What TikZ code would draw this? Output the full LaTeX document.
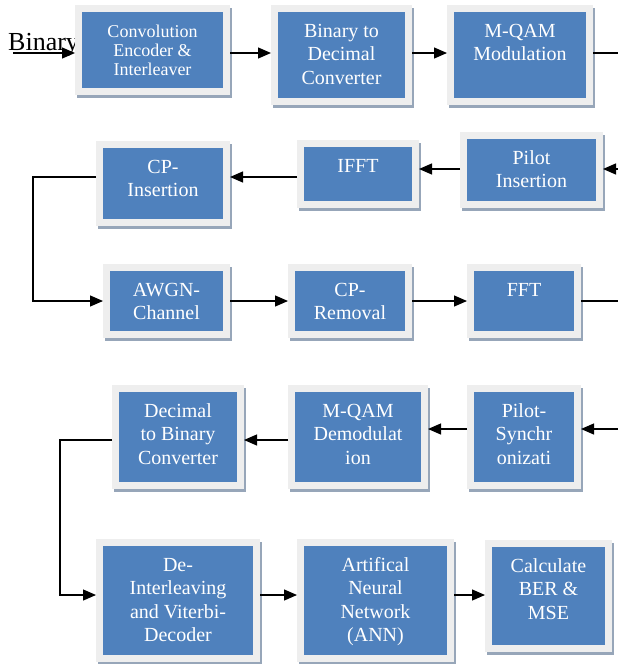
\documentclass[tikz,border=0pt]{standalone}
\usepackage{fontspec}
\setmainfont{Liberation Serif}
\usepackage{xcolor}
\usepackage{tikz}
\usetikzlibrary{arrows.meta}
\definecolor{BlockBlue}{HTML}{4F81BD}
\definecolor{BlockFrame}{HTML}{EEEEEE}
\definecolor{BlockShadow}{HTML}{97A6B9}
\newcommand{\FigureBlockText}[3]{%
  \parbox[c][#2pt][t]{#1pt}{\centering\rule{0pt}{25pt}#3}%
}

\begin{document}
\begin{tikzpicture}[
  x=1pt,y=-1pt,
  font=\fontsize{20}{23.5}\selectfont,
  block/.style={fill=BlockBlue,text=white,inner sep=0pt,outer sep=7pt,
    preaction={draw=BlockShadow,line width=14pt,transform canvas={shift={(2pt,-3pt)}}},
    preaction={draw=BlockFrame,line width=14pt}},
  flow/.style={draw=black,line width=1.2pt,-{Triangle[length=13pt,width=11pt]}},
  plain/.style={draw=black,line width=1.1pt},
]
  \useasboundingbox[fill=white] (0,0) rectangle (618,664);

  \node[anchor=base west,inner sep=0pt,font=\fontsize{26}{30}\selectfont] (binlbl) at (8,50) {Binary};

  % transmitter
  \node[block] (conv) at (152.5,50) {\FigureBlockText{141}{76}{\fontsize{18}{19}\selectfont Convolution\\Encoder \&\\Interleaver}};
  \node[block] (b2d) at (341.5,55) {\FigureBlockText{127}{86}{Binary to\\Decimal\\Converter}};
  \node[block] (mqam) at (520,55) {\FigureBlockText{132}{86}{M-QAM\\Modulation}};
  \node[block] (cpins) at (163,183.5) {\FigureBlockText{120}{71}{CP-\\Insertion}};
  \node[block] (ifft) at (358,174) {\FigureBlockText{108}{54}{IFFT}};
  \node[block] (pilotins) at (531.5,170) {\FigureBlockText{129}{62}{Pilot\\Insertion}};

  % channel and receiver
  \node[block] (awgn) at (166.5,301) {\FigureBlockText{113}{60}{AWGN-\\Channel}};
  \node[block] (cprem) at (350,301) {\FigureBlockText{110}{60}{CP-\\Removal}};
  \node[block] (fft) at (524,301) {\FigureBlockText{100}{60}{FFT}};
  \node[block] (dectobin) at (178,437) {\FigureBlockText{118}{90}{Decimal\\to Binary\\Converter}};
  \node[block] (demod) at (358,437) {\FigureBlockText{126}{90}{M-QAM\\Demodulat\\ion}};
  \node[block] (pilotsync) at (524,437) {\FigureBlockText{100}{90}{Pilot-\\Synchr\\onizati}};
  \node[block] (deint) at (178,600.5) {\FigureBlockText{150}{109}{De-\\Interleaving\\and Viterbi-\\Decoder}};
  \node[block] (ann) at (375.5,600.5) {\FigureBlockText{143}{109}{Artifical\\Neural\\Network\\(ANN)}};
  \node[block] (ber) at (548.5,596) {\FigureBlockText{113}{98}{Calculate\\BER \&\\MSE}};

  \coordinate (src) at (13,53);
  \coordinate (out1) at (618,53);
  \coordinate (in2) at (618,169);
  \coordinate (row2) at (0,177);
  \coordinate (out3) at (618,301);
  \coordinate (in4) at (618,429);
  \coordinate (row4) at (0,440);
  \coordinate (row5) at (0,595);

  \draw[flow] (src) -- (src -| conv.west);
  \draw[flow] (conv.east |- src) -- (src -| b2d.west);
  \draw[flow] (b2d.east |- src) -- (src -| mqam.west);
  \draw[plain] (mqam.east |- src) -- (out1);

  \draw[flow] (in2) -- (in2 -| pilotins.east);
  \draw[flow] (pilotins.west |- in2) -- (in2 -| ifft.east);
  \draw[flow] (ifft.west |- row2) -- (row2 -| cpins.east);
  \draw[flow] (cpins.west |- row2) -- ++(-63,0) |- (awgn.west);

  \draw[flow] (awgn.east) -- (cprem.west);
  \draw[flow] (cprem.east) -- (fft.west);
  \draw[plain] (fft.east) -- (out3);

  \draw[flow] (in4) -- (in4 -| pilotsync.east);
  \draw[flow] (pilotsync.west |- in4) -- (in4 -| demod.east);
  \draw[flow] (demod.west |- row4) -- (row4 -| dectobin.east);
  \draw[flow] (dectobin.west |- row4) -- ++(-52,0) |- (row5 -| deint.west);

  \draw[flow] (deint.east |- row5) -- (row5 -| ann.west);
  \draw[flow] (ann.east |- row5) -- (row5 -| ber.west);
\end{tikzpicture}
\end{document}
